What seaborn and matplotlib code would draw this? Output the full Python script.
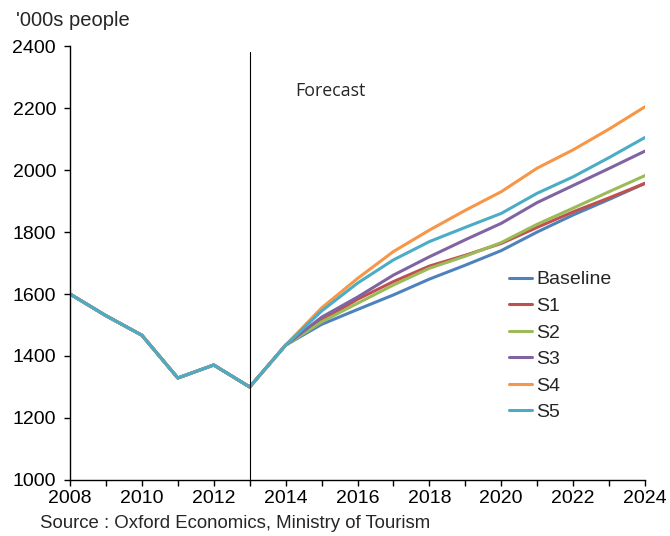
import numpy as np
import pandas as pd
import matplotlib
matplotlib.use("Agg")
import matplotlib.pyplot as plt
import seaborn as sns

years = list(range(2008, 2025))
history = [1600, 1530, 1467, 1329, 1371, 1300, 1435]
baseline = history + [1502, 1550, 1597, 1648, 1693, 1740, 1800, 1855, 1905, 1957]
s1 = history + [1515, 1583, 1640, 1690, 1725, 1763, 1815, 1865, 1910, 1957]
s2 = history + [1510, 1570, 1629, 1683, 1722, 1766, 1825, 1877, 1930, 1982]
s3 = history + [1525, 1590, 1661, 1720, 1775, 1828, 1895, 1950, 2005, 2061]
s4 = history + [1555, 1650, 1737, 1806, 1870, 1930, 2006, 2065, 2132, 2204]
s5 = history + [1545, 1635, 1710, 1769, 1815, 1860, 1925, 1978, 2040, 2105]
series_names = ["Baseline", "S1", "S2", "S3", "S4", "S5"]
colors = ["#4F81BD", "#C0504D", "#9BBB59", "#8064A2", "#F79646", "#4BACC6"]
forecast_year = 2013
y_ticks = list(range(1000, 2401, 200))

rows = []
for name, vals in zip(series_names, [baseline, s1, s2, s3, s4, s5]):
    for yr, v in zip(years, vals):
        rows.append({"year": yr, "value": v, "series": name})
df = pd.DataFrame(rows)

sns.set_theme(style="white")
plt.rcParams["font.family"] = ["Liberation Sans", "DejaVu Sans"]

fig = plt.figure(figsize=(6.7, 5.36), dpi=100)
ax = fig.add_axes([70/670, 1 - 480/536, (645-70)/670, (480-46)/536])

sns.lineplot(data=df, x="year", y="value", hue="series", palette=dict(zip(series_names, colors)),
             hue_order=series_names, linewidth=2.2, ax=ax, legend=True)

ax.axvline(forecast_year, ymin=0, ymax=(2380-1000)/1400, color="black", linewidth=0.8)
ax.text(2014.27, 2255, "Forecast", fontsize=12.8, family=["Open Sans", "DejaVu Sans"], va="center")

ax.set_xlim(2008, 2024)
ax.set_ylim(1000, 2400)
ax.set_xticks(range(2008, 2025))
ax.set_xticklabels([str(y) if (y - 2008) % 2 == 0 else "" for y in range(2008, 2025)], fontsize=14)
ax.set_yticks(y_ticks)
ax.set_yticklabels([str(v) for v in y_ticks], fontsize=14)
ax.set_xlabel("")
ax.set_ylabel("")
for s in ["top", "right"]:
    ax.spines[s].set_visible(False)
for s in ["left", "bottom"]:
    ax.spines[s].set_color("black")
    ax.spines[s].set_linewidth(1.0)
ax.tick_params(axis="both", which="both", direction="out", length=4, width=1, color="black",
               bottom=True, left=True, labelcolor="black")
ax.tick_params(axis="y", pad=6)
ax.tick_params(axis="x", pad=3)

leg = ax.legend(loc="upper left", bbox_to_anchor=(0.75, 0.5), frameon=False, fontsize=14,
                handlelength=1.2, handletextpad=0.2, labelspacing=0.46, borderaxespad=0)

fig.text(16/670, 1 - 20/536, "'000s people", fontsize=14.5, va="center", ha="left")
fig.text(40/670, 1 - 523/536, "Source : Oxford Economics, Ministry of Tourism", fontsize=13.4, va="center", ha="left")

fig.savefig("out.png", dpi=100)
